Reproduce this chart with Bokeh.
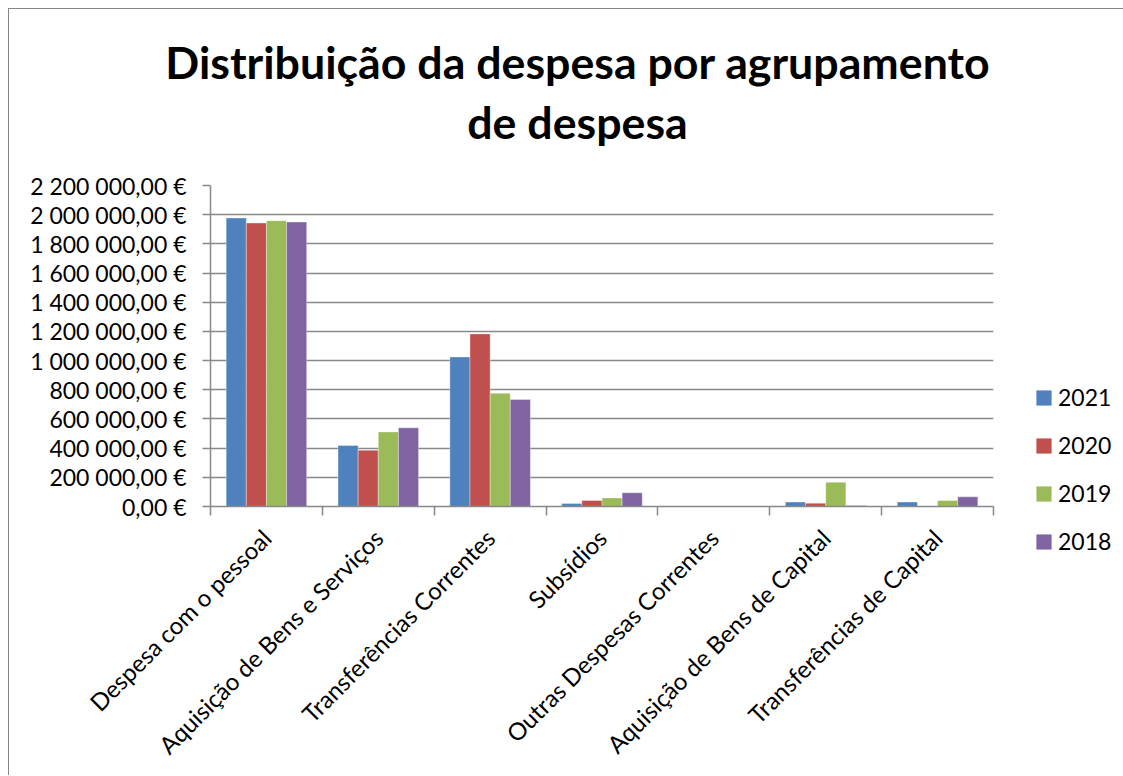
import math
from bokeh.plotting import figure
from bokeh.layouts import row, column
from bokeh.models import (ColumnDataSource, Range1d, LinearAxis, FixedTicker,
                          Legend, LegendItem, Div)
from bokeh.transform import dodge
from bokeh.embed import file_html
from bokeh.resources import INLINE

categories = ["Despesa com o pessoal", "Aquisição de Bens e Serviços",
              "Transferências Correntes", "Subsídios",
              "Outras Despesas Correntes", "Aquisição de Bens de Capital",
              "Transferências de Capital"]
years = ["2021", "2020", "2019", "2018"]
v2021 = [1977000, 418000, 1025000, 20000, 2000, 30000, 30000]
v2020 = [1943000, 386000, 1183000, 41000, 1000, 23000, 0]
v2019 = [1959000, 511000, 776000, 59000, 1500, 166000, 41000]
v2018 = [1950000, 539000, 733000, 94000, 1000, 7000, 66000]
y_ticks = [0, 200000, 400000, 600000, 800000, 1000000, 1200000, 1400000,
           1600000, 1800000, 2000000, 2200000]
y_tick_labels = ["0,00 €", "200 000,00 €", "400 000,00 €", "600 000,00 €",
                 "800 000,00 €", "1 000 000,00 €", "1 200 000,00 €",
                 "1 400 000,00 €", "1 600 000,00 €", "1 800 000,00 €",
                 "2 000 000,00 €", "2 200 000,00 €"]
title_lines = ["Distribuição da despesa por agrupamento", "de despesa"]

colors = ["#4F81BD", "#C0504D", "#9BBB59", "#8064A2"]
FONT = "Lato"
GRAY = "#898989"
H = 610

# title block
title = Div(text=('<div style="width:1111px; box-sizing:border-box; padding-left:16px; '
                  'padding-top:18px; text-align:center; font-family:Lato; font-weight:bold; '
                  'font-size:44.7px; line-height:60px; color:black; white-space:nowrap;">'
                  + title_lines[0] + '<br>' + title_lines[1] + '</div>'),
            width=1111, height=146)

centers = [i + 0.5 for i in range(len(categories))]
src = ColumnDataSource(dict(x=centers, y2021=v2021, y2020=v2020,
                            y2019=v2019, y2018=v2018))

p = figure(width=1001, height=H, output_backend="svg", toolbar_location=None,
           x_range=Range1d(0, len(categories)), y_range=Range1d(0, 2200000),
           x_axis_location=None, y_axis_location=None,
           min_border_left=201, min_border_right=17,
           min_border_top=20, min_border_bottom=269)
p.outline_line_color = None

# y axis
yaxis = LinearAxis(ticker=FixedTicker(ticks=y_ticks, minor_ticks=[]),
                   major_label_overrides={t: l for t, l in zip(y_ticks, y_tick_labels)},
                   major_label_text_font=FONT, major_label_text_font_size="23px",
                   major_label_text_color="black",
                   major_label_standoff=16, major_tick_out=8, major_tick_in=0,
                   axis_line_color=GRAY, axis_line_width=1.5,
                   major_tick_line_color=GRAY, major_tick_line_width=1.5)
p.add_layout(yaxis, "left")

# x axis (ticks between categories, labels at centres)
xaxis = LinearAxis(ticker=FixedTicker(ticks=centers, minor_ticks=list(range(len(categories) + 1))),
                   major_label_overrides={c: n for c, n in zip(centers, categories)},
                   major_label_orientation=math.pi / 4,
                   major_label_text_font=FONT, major_label_text_font_size="24px",
                   major_label_text_color="black",
                   major_label_standoff=18,
                   major_tick_line_color=None,
                   minor_tick_out=9, minor_tick_in=0,
                   minor_tick_line_color=GRAY, minor_tick_line_width=1.5,
                   axis_line_color=GRAY, axis_line_width=1.5)
p.add_layout(xaxis, "below")

p.xgrid.visible = False
p.ygrid.ticker = FixedTicker(ticks=y_ticks)
p.ygrid.grid_line_color = GRAY
p.ygrid.grid_line_width = 1.5

offsets = [-0.27, -0.09, 0.09, 0.27]
for yr, col, off in zip(years, colors, offsets):
    p.vbar(x=dodge("x", off, range=p.x_range), top="y" + yr, width=0.18,
           source=src, fill_color=col, line_color="white", line_alpha=0.5,
           line_width=0.7)

# legend figure (legend sits in its left side panel)
pl = figure(width=110, height=H, output_backend="svg", toolbar_location=None,
            x_range=Range1d(0, 1), y_range=Range1d(0, 1),
            x_axis_location=None, y_axis_location=None, min_border=0)
pl.outline_line_color = None
pl.grid.visible = False
items = []
for yr, col in zip(years, colors):
    r = pl.vbar(x=[0.5], top=[0], bottom=[0], width=0.0, fill_color=col,
                line_color=None)
    items.append(LegendItem(label=yr, renderers=[r]))
legend = Legend(items=items, location=(24, -59), glyph_width=19, glyph_height=19,
                label_height=48, spacing=0, padding=0, margin=0,
                label_text_font=FONT, label_text_font_size="23px",
                label_text_color="black",
                label_standoff=5, border_line_color=None,
                background_fill_alpha=0)
pl.add_layout(legend, "left")

layout = column(title, row(p, pl))
layout.styles = {"margin-left": "8px", "margin-top": "8px",
                 "border-left": "1px solid #868686", "border-top": "1px solid #868686",
                 "border-right": "1px solid #868686"}

open("out.html", "w").write(file_html(layout, INLINE))
